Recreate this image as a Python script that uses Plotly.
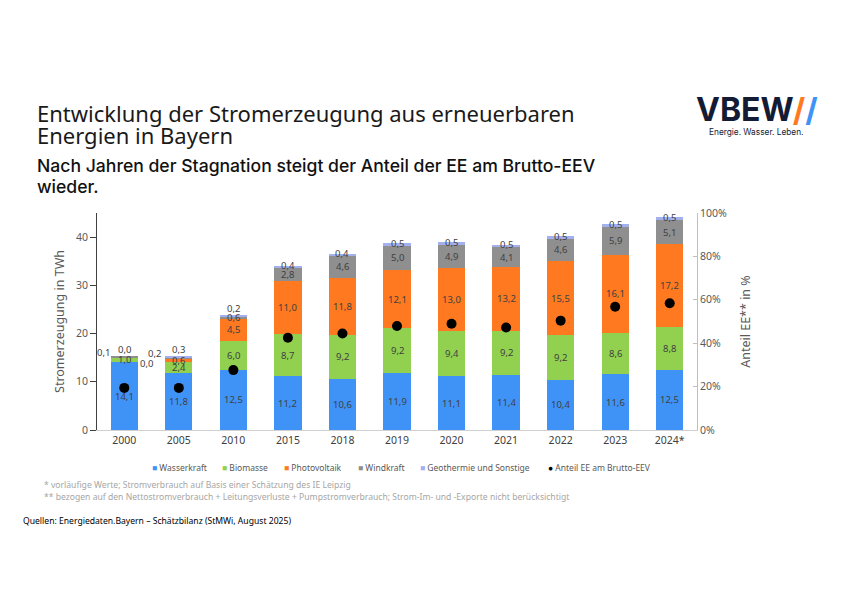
import plotly.graph_objects as go

years = ["2000", "2005", "2010", "2015", "2018", "2019", "2020", "2021", "2022", "2023", "2024*"]
wasserkraft = [14.1, 11.8, 12.5, 11.2, 10.6, 11.9, 11.1, 11.4, 10.4, 11.6, 12.5]
biomasse = [1.0, 2.4, 6.0, 8.7, 9.2, 9.2, 9.4, 9.2, 9.2, 8.6, 8.8]
photovoltaik = [0.0, 0.6, 4.5, 11.0, 11.8, 12.1, 13.0, 13.2, 15.5, 16.1, 17.2]
windkraft = [0.1, 0.2, 0.6, 2.8, 4.6, 5.0, 4.9, 4.1, 4.6, 5.9, 5.1]
geothermie = [0.0, 0.3, 0.2, 0.4, 0.4, 0.5, 0.5, 0.5, 0.5, 0.5, 0.5]
anteil_ee = [0.194, 0.194, 0.276, 0.425, 0.445, 0.479, 0.490, 0.472, 0.504, 0.568, 0.584]

series = [
    ("Wasserkraft", wasserkraft, "#3f93f7"),
    ("Biomasse", biomasse, "#92d050"),
    ("Photovoltaik", photovoltaik, "#ff7920"),
    ("Windkraft", windkraft, "#8f8f8f"),
    ("Geothermie und Sonstige", geothermie, "#a4b0ee"),
]
dot_name = "Anteil EE am Brutto-EEV"

LABEL_COL = "#404040"
GRAY = "#595959"
FONT = "Noto Sans"

fig = go.Figure()

for name, vals, col in series:
    fig.add_trace(go.Bar(
        x=years, y=vals, name=name, marker=dict(color=col, line=dict(width=0)),
        showlegend=False, hoverinfo="y+name",
    ))

fig.add_trace(go.Scatter(
    x=years, y=anteil_ee, yaxis="y2", mode="markers", name=dot_name,
    marker=dict(color="black", size=10), showlegend=False,
))

def fmt(v):
    return f"{v:.1f}".replace(".", ",")

annotations = []
for i, yr in enumerate(years):
    base = 0.0
    for k, (name, vals, col) in enumerate(series):
        v = vals[i]
        mid = base + v / 2
        top = base + v
        small = v < 1.0
        lab_font = dict(size=9.5, color=LABEL_COL, family=FONT)
        if not small:
            annotations.append(dict(x=i, y=mid, text=fmt(v), showarrow=False, font=lab_font))
        elif k == 4:
            annotations.append(dict(x=i, y=top, text=fmt(v), showarrow=False, yanchor="middle",
                                    yshift=7 if i < 3 else 0, font=lab_font))
        else:
            xs, ys = 0, 0
            if i == 0 and k == 3:
                xs, ys = -21, 4
            elif i == 0 and k == 2:
                xs, ys = 22, -6
            elif i == 1 and k == 3:
                xs, ys = -24, 5
            annotations.append(dict(x=i, y=mid, text=fmt(v), showarrow=False,
                                    xshift=xs, yshift=ys, font=lab_font))
        base = top

# page pixel -> paper coords (plot area spans page px 97..697 x 213..430)
def paper_x(px):
    return (px - 97) / 600


def paper_y(py):
    return (430 - py) / 217


texts = [
    dict(x=paper_x(35), y=paper_y(113), xanchor="left", yanchor="middle", align="left",
         text="Entwicklung der Stromerzeugung aus erneuerbaren",
         font=dict(size=22, color="#1a1a1a", family=FONT)),
    dict(x=paper_x(35), y=paper_y(135), xanchor="left", yanchor="middle", align="left",
         text="Energien in Bayern",
         font=dict(size=22, color="#1a1a1a", family=FONT)),
    dict(x=paper_x(35), y=paper_y(165), xanchor="left", yanchor="middle", align="left",
         text="Nach Jahren der Stagnation steigt der Anteil der EE am Brutto-EEV",
         font=dict(size=17.6, color="#111111", family="Inter", weight=500)),
    dict(x=paper_x(35), y=paper_y(186), xanchor="left", yanchor="middle", align="left",
         text="wieder.",
         font=dict(size=17.6, color="#111111", family="Inter", weight=500)),
    dict(x=paper_x(694), y=paper_y(88), xanchor="left", yanchor="top", align="left",
         text="<b>VBEW</b><b><span style='color:#ff7920'>/</span><span style='color:#3f93f7'>/</span></b>",
         font=dict(size=32, color="#141b34", family="Inter")),
    dict(x=paper_x(707), y=paper_y(125), xanchor="left", yanchor="top", align="left",
         text="Energie. Wasser. Leben.",
         font=dict(size=8.3, color="#141b34", family="Inter")),
    dict(x=paper_x(42), y=paper_y(485), xanchor="left", yanchor="middle", align="left",
         text="* vorläufige Werte; Stromverbrauch auf Basis einer Schätzung des IE Leipzig",
         font=dict(size=8.6, color="#a6a6a6", family=FONT)),
    dict(x=paper_x(42), y=paper_y(497), xanchor="left", yanchor="middle", align="left",
         text="** bezogen auf den Nettostromverbrauch + Leitungsverluste + Pumpstromverbrauch; Strom-Im- und -Exporte nicht berücksichtigt",
         font=dict(size=8.6, color="#a6a6a6", family=FONT)),
    dict(x=paper_x(21), y=paper_y(521), xanchor="left", yanchor="middle", align="left",
         text="Quellen: Energiedaten.Bayern – Schätzbilanz (StMWi, August 2025)",
         font=dict(size=8.6, color="#000000", family=FONT)),
]

# manual legend
legend_x = [150, 220, 282, 356, 418, 546]
legend_items = [(n, c, "■") for n, _, c in series] + [(dot_name, "black", "●")]
for (name, col, sym), lx in zip(legend_items, legend_x):
    texts.append(dict(x=paper_x(lx), y=paper_y(467), xanchor="left", yanchor="middle", align="left",
                      text=f"<span style='color:{col}'>{sym}</span> {name}",
                      font=dict(size=8.5, color=GRAY, family=FONT)))

for a in texts:
    a.update(xref="paper", yref="paper", showarrow=False)
    annotations.append(a)

fig.update_layout(
    annotations=annotations,
    width=842, height=595,
    margin=dict(l=89, r=153, t=205, b=173, autoexpand=False),
    paper_bgcolor="white", plot_bgcolor="white",
    barmode="stack", bargap=0.5,
    showlegend=False,
    font=dict(family=FONT, color=GRAY),
    xaxis=dict(type="category", categoryorder="array", categoryarray=years,
               range=[-0.5, len(years) - 0.5],
               showline=True, linecolor="#d0d0d0", linewidth=1,
               tickfont=dict(size=10.5, color=LABEL_COL), ticks="", showgrid=False),
    yaxis=dict(range=[0, 45], dtick=10, showgrid=False, zeroline=False,
               showline=True, linecolor="#404040", linewidth=1,
               ticks="outside", ticklen=6, tickcolor="#404040",
               tickfont=dict(size=10.5, color=GRAY),
               title=dict(text="Stromerzeugung in TWh", font=dict(size=12.5, color=GRAY), standoff=8)),
    yaxis2=dict(range=[0, 1], dtick=0.2, tickformat=".0%", overlaying="y", side="right",
                showgrid=False, zeroline=False, showline=True, linecolor="#bfbfbf", linewidth=1,
                ticks="inside", ticklen=4, tickcolor="#bfbfbf",
                tickfont=dict(size=10.5, color=GRAY),
                title=dict(text="Anteil EE** in %", font=dict(size=12.5, color=GRAY), standoff=15)),
)

fig.write_html("out.html")
